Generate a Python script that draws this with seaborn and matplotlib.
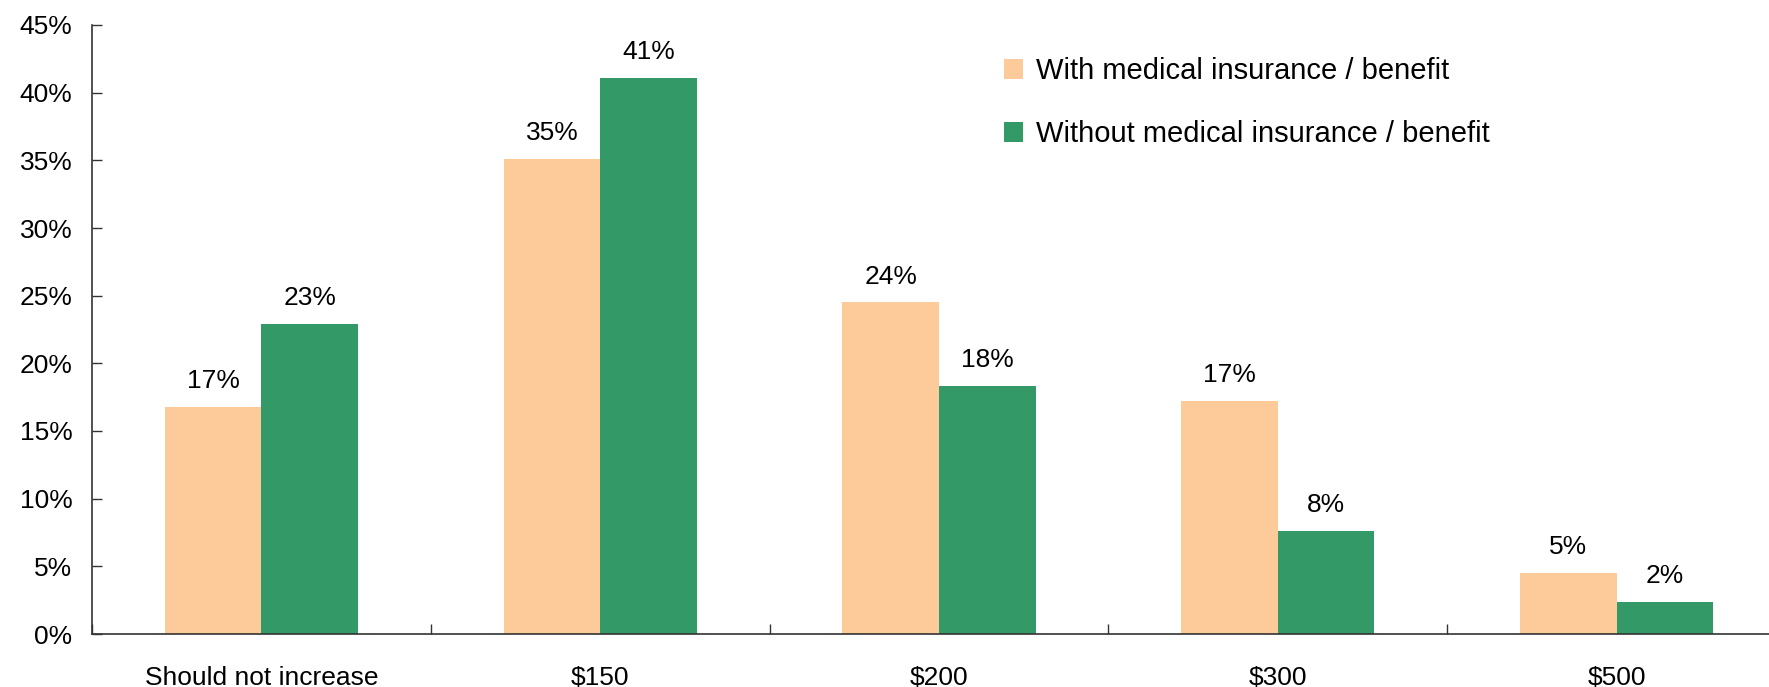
import numpy as np
import pandas as pd
import matplotlib
matplotlib.use("Agg")
import matplotlib.pyplot as plt
import seaborn as sns

categories = ["Should not increase", "$150", "$200", "$300", "$500"]
with_ins = [16.8, 35.1, 24.5, 17.2, 4.5]
without_ins = [22.9, 41.1, 18.3, 7.6, 2.4]
with_labels = ["17%", "35%", "24%", "17%", "5%"]
without_labels = ["23%", "41%", "18%", "8%", "2%"]
series = ["With medical insurance / benefit", "Without medical insurance / benefit"]
yticks = [0, 5, 10, 15, 20, 25, 30, 35, 40, 45]

df = pd.DataFrame({
    "category": categories * 2,
    "value": with_ins + without_ins,
    "series": [series[0]] * len(categories) + [series[1]] * len(categories),
})

sns.set_style("white")
plt.rcParams["font.family"] = ["Liberation Sans", "DejaVu Sans"]
plt.rcParams["text.parse_math"] = False

fig = plt.figure(figsize=(17.69, 6.87), dpi=100)
ax = fig.add_axes([92 / 1769, 53 / 687, 1 - 92 / 1769, 609 / 687])

sns.barplot(data=df, x="category", y="value", hue="series", order=categories,
            hue_order=series, palette=["#FDCB99", "#339966"], width=0.57,
            saturation=1, linewidth=0, ax=ax, legend=True)

for cont, labs in zip(ax.containers, [with_labels, without_labels]):
    ax.bar_label(cont, labels=labs, padding=10, fontsize=19, color="black")

ax.set_ylim(0, 45)
ax.set_xlim(-0.5, 4.45)
ax.set_yticks(yticks)
ax.set_yticklabels([f"{t}%" for t in yticks], fontsize=19, color="black")
ax.tick_params(axis="y", left=True, direction="in", length=7, width=1, color="#333333", pad=14)
ax.tick_params(axis="x", which="major", bottom=True, length=0, pad=23, labelsize=19,
               labelcolor="black")
ax.set_xticks(np.arange(-0.5, 4.5, 1), minor=True)
ax.tick_params(axis="x", which="minor", bottom=True, direction="in", length=7, width=1,
               color="#333333")
ax.set_xlabel("")
ax.set_ylabel("")

sns.despine(ax=ax)
for s in ["left", "bottom"]:
    ax.spines[s].set_color("#333333")
    ax.spines[s].set_linewidth(1.2)

handles, labels = ax.get_legend_handles_labels()
ax.legend(handles, labels, frameon=False, loc="upper left",
          bbox_to_anchor=(978 / 1769, 1 - 31 / 687), bbox_transform=fig.transFigure,
          fontsize=21, handlelength=0.65, handleheight=0.65, handletextpad=0.45,
          labelspacing=1.2, labelcolor="black")

fig.savefig("out.png", dpi=100)
